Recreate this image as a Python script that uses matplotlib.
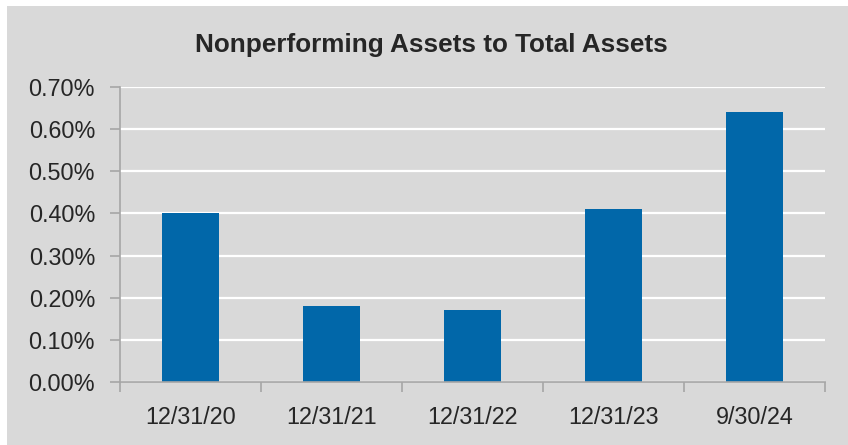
import matplotlib.pyplot as plt
import numpy as np
from matplotlib.ticker import FuncFormatter, MultipleLocator

plt.rcParams['font.family'] = ['Liberation Sans', 'DejaVu Sans']

# data
periods = ["12/31/20", "12/31/21", "12/31/22", "12/31/23", "9/30/24"]
npa_ratio = [0.40, 0.18, 0.17, 0.41, 0.64]

bg = '#d9d9d9'
bar_color = '#0167a9'
text_color = '#262626'
axis_color = '#a6a6a6'

fig = plt.figure(figsize=(8.48, 4.45), dpi=100, facecolor='white')
# gray panel behind everything
fig.patches.append(plt.Rectangle((7/848, 0), 1, 1 - 6/445, transform=fig.transFigure,
                                 facecolor=bg, edgecolor='none', zorder=-1))
ax = fig.add_axes([120/848, 1 - 382/445, 705/848, 295/445])
ax.set_facecolor(bg)

x = np.arange(len(periods))
ax.bar(x, npa_ratio, width=0.4, color=bar_color, zorder=3)

ax.set_xlim(-0.5, len(periods) - 0.5)
ax.set_ylim(0, 0.70)
ax.yaxis.set_major_locator(MultipleLocator(0.10))
ax.yaxis.set_major_formatter(FuncFormatter(lambda v, p: f"{v:.2f}%"))
ax.grid(axis='y', color='white', linewidth=1.6, zorder=0)

ax.set_xticks(x)
ax.set_xticklabels(periods)
ax.set_xticks(np.arange(len(periods) + 1) - 0.5, minor=True)
ax.tick_params(axis='x', which='major', length=0, pad=17, labelsize=16.8, labelcolor=text_color)
ax.tick_params(axis='x', which='minor', length=7, width=1.2, color=axis_color)
ax.tick_params(axis='y', length=7, width=1.2, color=axis_color, pad=11,
               labelsize=16.8, labelcolor=text_color)

for s in ['top', 'right']:
    ax.spines[s].set_visible(False)
for s in ['left', 'bottom']:
    ax.spines[s].set_color(axis_color)
    ax.spines[s].set_linewidth(1.2)
    ax.spines[s].set_zorder(4)

fig.text(431/848, 1 - 45/445, "Nonperforming Assets to Total Assets", ha='center', va='center',
         fontsize=18.8, fontweight='bold', color=text_color)

fig.savefig('out.png', dpi=100, facecolor='white')
